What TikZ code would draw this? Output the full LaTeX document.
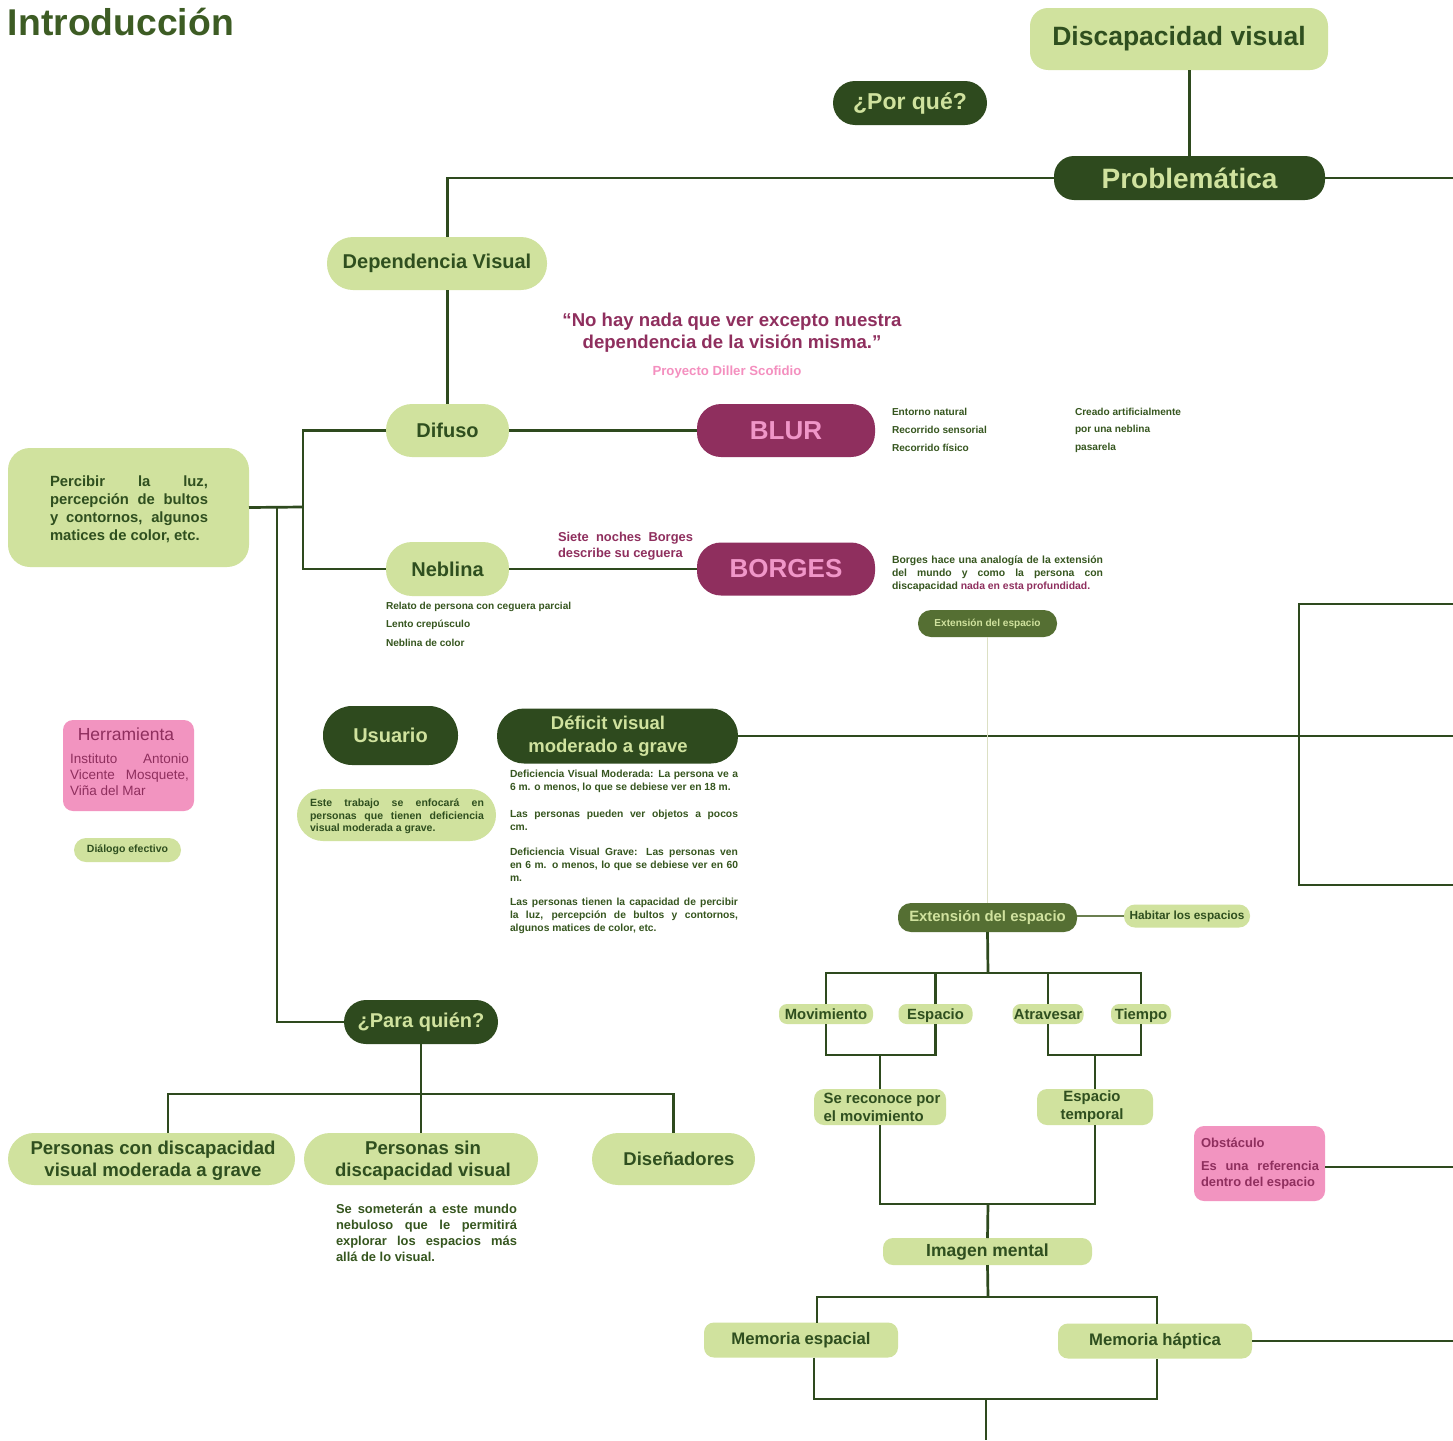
\documentclass[tikz,border=0pt]{standalone}
\usepackage{fontspec}
\setmainfont{Liberation Sans}
\hyphenpenalty=10000
\exhyphenpenalty=10000
% palette
\definecolor{lg}{HTML}{D0E29E}   % light green fill
\definecolor{dg}{HTML}{2E4A1E}   % dark green fill
\definecolor{mg}{HTML}{556F33}   % medium green fill
\definecolor{tg}{HTML}{2F4F1F}   % text on light boxes
\definecolor{bt}{HTML}{36561F}   % body text
\definecolor{ti}{HTML}{3D5C24}   % title
\definecolor{lc}{HTML}{2E4A1E}   % connectors
\definecolor{mag}{HTML}{8F2F5E}  % magenta
\definecolor{pkt}{HTML}{F096C8}  % pink text on magenta
\definecolor{pk}{HTML}{F294C0}   % pink fill
\definecolor{src}{HTML}{F48FBF}  % quote source
\definecolor{pale}{HTML}{DCE0C4} % thin pale connector
\definecolor{thin}{HTML}{6B7F50} % thin green connector
\begin{document}
\begin{tikzpicture}[x=1pt,y=-1pt,
  every node/.style={inner sep=0pt,outer sep=0pt},
  fb/.style 2 args={font=\bfseries\fontsize{#1}{#2}\selectfont},
  fr/.style 2 args={font=\fontsize{#1}{#2}\selectfont},
  smallpill/.style={fill=lg,text=tg,align=center,rounded corners=8,
    minimum height=20,text height=12.5pt,text depth=2pt,fb={14.8}{17}},
  pill/.style={fill=lg,text=tg,align=center},
  dark/.style={fill=dg,text=lg,align=center},
  mid/.style={fill=mg,text=lg,align=center},
  magbox/.style={fill=mag,text=pkt,align=center},
  pinkbox/.style={fill=pk,text=mag},
  wire/.style={draw=lc,line width=2.7pt},
  para/.style={text=bt,align=justify},
  note/.style={text=bt,anchor=west,fb={10.1}{12}},
  sz/.style 2 args={minimum width=#1,minimum height=#2},
]
\useasboundingbox (0,0) rectangle (1453,1440);
\fill[white] (0,0) rectangle (1453,1440);

% ---------- title ----------
\node[anchor=west,text=ti,fb={37.3}{44}] (title) at (8,22) {Introducción};

% ---------- top of the tree ----------
\node[pill,sz={298}{62},rounded corners=18,fb={26.5}{30}] (disc) at (1179,39) {Discapacidad visual};
\node[dark,sz={271}{44},rounded corners=20,fb={28}{32}] (prob) at (1189.5,178) {Problemática};
\node[dark,sz={154}{44},rounded corners=22,fb={23}{26}] (porque) at (910,103) {¿Por qué?};
\node[pill,sz={220}{53},rounded corners=26,fb={20}{24}] (dep) at (437,263.5) {Dependencia Visual};

% ---------- quote ----------
\node[text=mag,align=center,fb={18.6}{22}] (quote) at (732,332.5)
  {“No hay nada que ver excepto nuestra\\dependencia de la visión misma.”};
\node[text=src,fb={13.2}{15}] (source) at (727,372) {Proyecto Diller Scofidio};

% ---------- Difuso / Neblina ----------
\node[pill,sz={123}{53},rounded corners=26,fb={20}{24}] (difuso) at (447.5,430.5) {Difuso};
\node[magbox,sz={178}{53},rounded corners=24,fb={26}{30}] (blur) at (786,430.5) {BLUR};
\node[pill,sz={123}{54},rounded corners=26,fb={20}{24}] (neblina) at (447.5,569) {Neblina};
\node[magbox,sz={178}{53},rounded corners=24,fb={26}{30}] (borges) at (786,569) {BORGES};

\node[note] (bl1) at (892,411.5) {Entorno natural};
\node[note] (bl2) at (892,429.5) {Recorrido sensorial};
\node[note] (bl3) at (892,447.5) {Recorrido físico};
\node[note] (bl4) at (1075,411.5) {Creado artificialmente};
\node[note] (bl5) at (1075,429.5) {por una neblina};
\node[note] (bl6) at (1075,447.5) {pasarela};

\node[note] (nb1) at (386,606.5) {Relato de persona con ceguera parcial};
\node[note] (nb2) at (386,624.5) {Lento crepúsculo};
\node[note] (nb3) at (386,642.5) {Neblina de color};

\node[text=mag,align=justify,text width=135,fb={12.9}{16}] (siete) at (625.5,546)
  {Siete noches Borges\linebreak describe su ceguera};

\node[para,text width=211,fb={10.4}{13}] (analogia) at (997.5,574)
  {Borges hace una analogía de la extensión\linebreak del mundo y como la persona con\linebreak discapacidad \textcolor{mag}{nada en esta profundidad.}};

% ---------- Percibir ----------
\node[fill=lg,sz={241}{119},rounded corners=22] (percibir) at (128.5,507.5) {};
\node[para,text=tg,text width=158,fb={14.8}{18}] (percibirtxt) at (129,509)
  {Percibir la luz,\linebreak percepción de bultos\linebreak y contornos, algunos\linebreak matices de color, etc.};

% ---------- Herramienta ----------
\node[pinkbox,sz={131}{91},rounded corners=10] (herr) at (128.5,765.5) {};
\node[text=mag,fr={17.5}{20}] (herrtit) at (126,734) {Herramienta};
\node[text=mag,align=justify,text width=119,fr={13.5}{16}] (herrtxt) at (129.5,775)
  {Instituto Antonio\linebreak Vicente Mosquete,\linebreak Viña del Mar};
\node[pill,sz={107}{24},rounded corners=12,fb={10.5}{12}] (dialogo) at (127.5,850) {Diálogo efectivo};

% ---------- Usuario / Déficit ----------
\node[dark,sz={135}{59},rounded corners=29,fb={20}{24}] (usuario) at (390.5,735.5) {Usuario};
\node[fill=dg,sz={241}{55},rounded corners=27] (deficit) at (617.5,736) {};
\node[text=lg,align=center,fb={18.5}{23}] (deficittxt) at (608,736) {Déficit visual\\moderado a grave};

\node[fill=lg,sz={199}{52},rounded corners=26] (este) at (396.5,815) {};
\node[para,text=tg,text width=174,fb={10.5}{12.5}] (estetxt) at (397,816.5)
  {Este trabajo se enfocará en\linebreak personas que tienen deficiencia\linebreak visual moderada a grave.};

\node[para,text width=228,fb={10.3}{13}] (def1) at (624,781.5)
  {Deficiencia Visual Moderada: La persona ve a\linebreak 6 m. o menos, lo que se debiese ver en 18 m.};
\node[para,text width=228,fb={10.3}{13}] (def2) at (624,820.5)
  {Las personas pueden ver objetos a pocos\linebreak cm.};
\node[para,text width=228,fb={10.3}{13}] (def3) at (624,865)
  {Deficiencia Visual Grave: Las personas ven\linebreak en 6 m. o menos, lo que se debiese ver en 60\linebreak m.};
\node[para,text width=228,fb={10.3}{13}] (def4) at (624,916)
  {Las personas tienen la capacidad de percibir\linebreak la luz, percepción de bultos y contornos,\linebreak algunos matices de color, etc.};

% ---------- ¿Para quién? ----------
\node[dark,sz={154}{44},rounded corners=22,fb={20}{24}] (paraquien) at (421,1022) {¿Para quién?};
\node[pill,sz={287}{52},rounded corners=26] (pcd) at (151.5,1159) {};
\node[text=tg,align=center,fb={18.6}{22}] (pcdtxt) at (153,1161) {Personas con discapacidad\\visual moderada a grave};
\node[pill,sz={234}{52},rounded corners=26] (psd) at (421,1159) {};
\node[text=tg,align=center,fb={18.6}{22}] (psdtxt) at (423,1160.5) {Personas sin\\discapacidad visual};
\node[pill,sz={163}{52},rounded corners=26,fb={18.5}{22}] (dis) at (673.5,1159) {\hspace{11pt}Diseñadores};
\node[para,text width=181,fb={12.9}{16}] (someter) at (426.5,1233)
  {Se someterán a este mundo\linebreak nebuloso que le permitirá\linebreak explorar los espacios más\linebreak allá de lo visual.};

% ---------- Extensión del espacio ----------
\node[mid,sz={139}{27},rounded corners=13,fb={10.1}{12}] (extS) at (987.5,623.5) {Extensión del espacio};
\node[mid,sz={179}{29},rounded corners=13,fb={14.9}{18}] (extB) at (987.5,917.5) {Extensión del espacio};
\node[pill,sz={126}{23},rounded corners=11,fb={11.8}{14}] (habitar) at (1187,916) {Habitar los espacios};

\node[smallpill,minimum width=94] (mov) at (826,1014) {Movimiento};
\node[smallpill,minimum width=74] (esp) at (935.5,1014) {Espacio};
\node[smallpill,minimum width=71] (atr) at (1048,1014) {Atravesar};
\node[smallpill,minimum width=60] (tie) at (1141,1014) {Tiempo};

\node[fill=lg,sz={132}{36},rounded corners=10] (sereco) at (880,1107) {};
\node[text=tg,align=left,fb={14.9}{18}] (serecotxt) at (882,1107) {Se reconoce por\\el movimiento};
\node[pill,sz={116}{36},rounded corners=10] (esptemp) at (1095,1107) {};
\node[text=tg,align=center,fb={14.9}{18}] (esptemptxt) at (1092,1107) {Espacio\\temporal};

\node[pill,sz={209}{27},rounded corners=10,fb={17.5}{20}] (imagen) at (987.5,1251.5) {Imagen mental};
\node[pill,sz={194}{35},rounded corners=10,fb={16.7}{20}] (memE) at (801,1340) {Memoria espacial};
\node[pill,sz={194}{35},rounded corners=10,fb={16.7}{20}] (memH) at (1155,1341) {Memoria háptica};

\node[pinkbox,sz={131}{75},rounded corners=10] (obst) at (1259.5,1163.5) {};
\node[text=mag,anchor=west,fb={13}{15}] (obsttit) at (1201,1142.5) {Obstáculo};
\node[text=mag,align=justify,text width=118,fb={12.9}{16}] (obsttxt) at (1260,1175)
  {Es una referencia\linebreak dentro del espacio};

% ---------- free ends at the right and bottom edges ----------
\coordinate (eProb) at (1453,178);
\coordinate (eTop)  at (1453,604);
\coordinate (eBot)  at (1453,885);
\coordinate (eObst) at (1453,1167);
\coordinate (eBase) at (986,1440);

% ---------- junction points ----------
\coordinate (jDN)  at (303,507);
\coordinate (jPer) at (277,507);
\coordinate (jPq)  at (421,1094);
\coordinate (jExt) at (988,973);
\coordinate (jMov) at (880,1055);
\coordinate (jTie) at (1095,1055);
\coordinate (jImg) at (988,1204);
\coordinate (jMem) at (988,1297);
\coordinate (jLow) at (986,1399);

% ---------- connectors ----------
\draw[wire] (prob.north |- disc.south) -- (prob.north);
\draw[wire] (prob.west) -| (difuso.north |- dep.north);
\draw[wire] (prob.east) -- (eProb);
\draw[wire] (difuso.north |- dep.south) -- (difuso.north);
\draw[wire] (difuso.east) -- (blur.west);
\draw[wire] (neblina.east) -- (borges.west);
\draw[wire] (difuso.west) -| (jDN) |- (neblina.west);
\draw[wire] (percibir.east) -- (jDN);
\draw[wire] (jPer) |- (paraquien.west);

\draw[wire] (paraquien.south) -- (jPq);
\draw[wire] ([xshift=16.5]pcd.north) |- (jPq) -| (dis.north);
\draw[wire] (jPq) -- (psd.north);

\draw[wire] (deficit.east) -- (deficit.east -| eTop);
\draw[wire] (eTop) -| (1299,744) |- (eBot);

\draw[draw=pale,line width=1.2pt] (extS.south) -- (extB.north);
\draw[draw=thin,line width=1.6pt] (extB.east |- habitar.west) -- (habitar.west);
\draw[wire] (extB.south) -- (jExt);
\draw[wire] (mov.north) |- (jExt) -| (tie.north);
\draw[wire] (esp.north) -- (esp.north |- jExt);
\draw[wire] (atr.north) -- (atr.north |- jExt);
\draw[wire] (mov.south) |- (jMov) -| (esp.south);
\draw[wire] (jMov) -- (sereco.north);
\draw[wire] (atr.south) |- (jTie) -| (tie.south);
\draw[wire] (jTie) -- (esptemp.north);
\draw[wire] (sereco.south) |- (jImg) -| (esptemp.south);
\draw[wire] (jImg) -- (imagen.north);
\draw[wire] (imagen.south) -- (jMem);
\draw[wire] ([xshift=16]memE.north) |- (jMem) -| ([xshift=2]memH.north);
\draw[wire] ([xshift=13]memE.south) |- (jLow) -| ([xshift=2]memH.south);
\draw[wire] (jLow) -- (eBase);
\draw[wire] (memH.east) -- (memH.east -| eObst);
\draw[wire] (obst.east |- eObst) -- (eObst);
\end{tikzpicture}
\end{document}
